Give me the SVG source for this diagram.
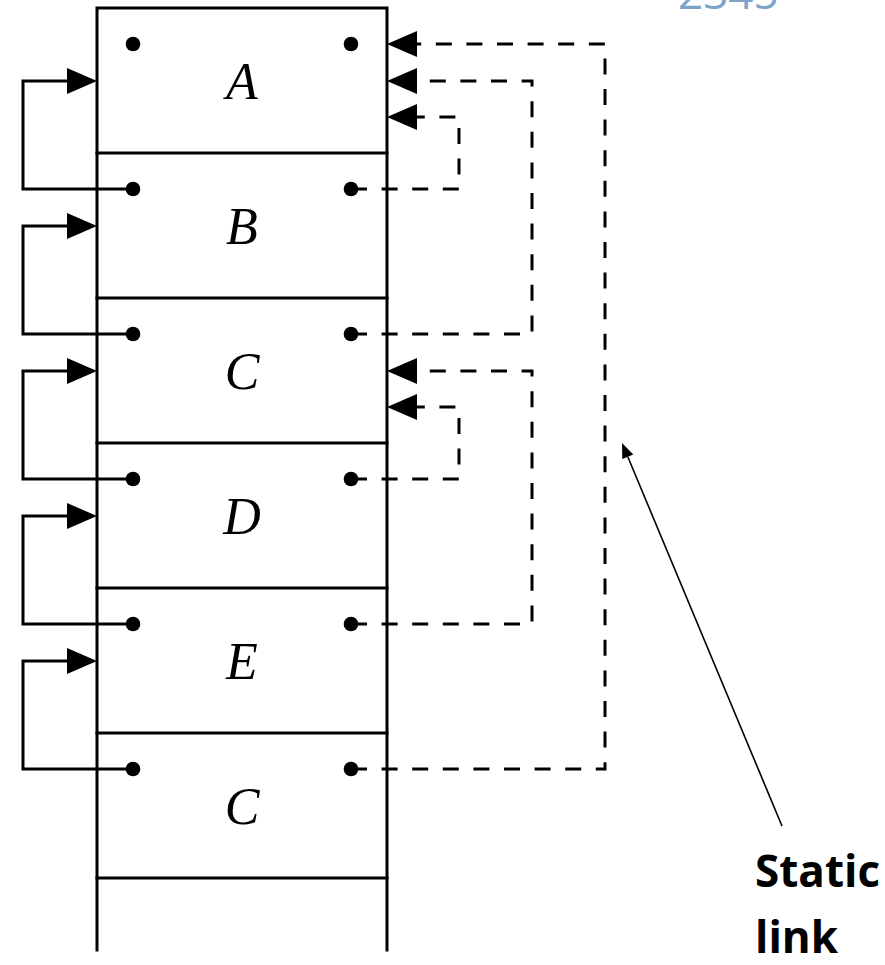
<svg xmlns="http://www.w3.org/2000/svg" width="885" height="965" viewBox="0 0 885 965">
  <style>
    .frame { stroke: #000; stroke-width: 3; fill: none; stroke-linecap: square; }
    .dyn { stroke: #000; stroke-width: 3; fill: none; }
    .stat { stroke: #000; stroke-width: 3; fill: none; stroke-dasharray: 16 14.6; }
    .dot { fill: #000; }
    .lbl { font-family: "Liberation Serif", "DejaVu Serif", serif; font-style: italic; font-size: 52px; fill: #000; text-anchor: middle; }
    .note { font-family: "Open Sans", "Liberation Sans", sans-serif; font-weight: bold; font-size: 44px; fill: #000; }
    .pg { font-family: "Open Sans", "Liberation Sans", sans-serif; font-size: 44px; fill: #7ba4c9; }
  </style>
  <defs>
    <polygon id="hl" points="67,-13 97,0 67,13"/>
    <polygon id="hr" points="417,-13 387,0 417,13"/>
  </defs>

  <rect width="885" height="965" fill="#fff"/>

  <!-- page number fragment at the top edge -->
  <text class="pg" x="678" y="9">2345</text>

  <!-- stack outline -->
  <g id="stack">
    <path class="frame" d="M97 950 V8 H387 V950"/>
    <path class="frame" d="M97 153 H387 M97 298 H387 M97 443 H387 M97 588 H387 M97 733 H387 M97 878 H387"/>
  </g>

  <!-- activation records -->
  <g id="rec-A">
    <circle class="dot" cx="133" cy="44" r="7.3"/><circle class="dot" cx="351" cy="44" r="7.3"/>
    <text class="lbl" x="242" y="99">A</text>
  </g>
  <g id="rec-B">
    <circle class="dot" cx="133" cy="189" r="7.3"/><circle class="dot" cx="351" cy="189" r="7.3"/>
    <text class="lbl" x="242" y="244">B</text>
  </g>
  <g id="rec-C1">
    <circle class="dot" cx="133" cy="334" r="7.3"/><circle class="dot" cx="351" cy="334" r="7.3"/>
    <text class="lbl" x="242" y="389">C</text>
  </g>
  <g id="rec-D">
    <circle class="dot" cx="133" cy="479" r="7.3"/><circle class="dot" cx="351" cy="479" r="7.3"/>
    <text class="lbl" x="242" y="534">D</text>
  </g>
  <g id="rec-E">
    <circle class="dot" cx="133" cy="624" r="7.3"/><circle class="dot" cx="351" cy="624" r="7.3"/>
    <text class="lbl" x="242" y="679">E</text>
  </g>
  <g id="rec-C2">
    <circle class="dot" cx="133" cy="769" r="7.3"/><circle class="dot" cx="351" cy="769" r="7.3"/>
    <text class="lbl" x="242" y="824">C</text>
  </g>

  <g id="connectors">
    <!-- dynamic links (left) -->
    <path class="dyn" d="M133 189 H23 V81 H80"/>
    <path class="dyn" d="M133 334 H23 V226 H80"/>
    <path class="dyn" d="M133 479 H23 V371 H80"/>
    <path class="dyn" d="M133 624 H23 V516 H80"/>
    <path class="dyn" d="M133 769 H23 V661 H80"/>
    <use href="#hl" y="81"/>
    <use href="#hl" y="226"/>
    <use href="#hl" y="371"/>
    <use href="#hl" y="516"/>
    <use href="#hl" y="661"/>

    <!-- static links (right) -->
    <path class="stat" d="M351 189 H459 V117 H410"/>
    <path class="stat" d="M351 334 H532 V81 H417"/>
    <path class="stat" d="M351 479 H459 V407 H410"/>
    <path class="stat" d="M351 624 H532 V371 H417"/>
    <path class="stat" d="M351 769 H605 V44 H417"/>
    <use href="#hr" y="44"/>
    <use href="#hr" y="81"/>
    <use href="#hr" y="117"/>
    <use href="#hr" y="371"/>
    <use href="#hr" y="407"/>
  </g>

  <!-- annotation -->
  <g id="note">
    <line x1="782" y1="826" x2="627.8" y2="456.8" stroke="#000" stroke-width="1.6"/>
    <polygon points="622,443 633.3,454.5 622.3,459.1" fill="#000"/>
    <text class="note" x="755" y="887">Static</text>
    <text class="note" x="755" y="953">link</text>
  </g>
</svg>
